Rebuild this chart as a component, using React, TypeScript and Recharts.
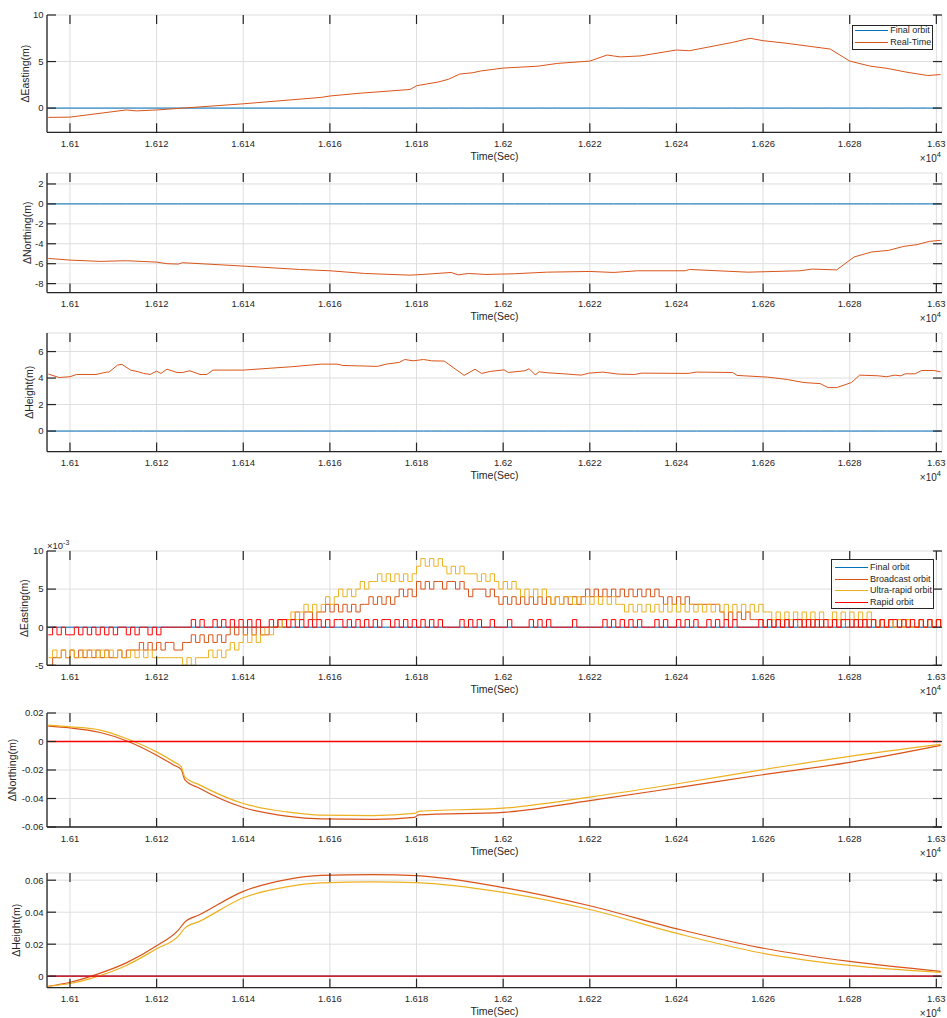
import React from 'react';
import { LineChart, Line, XAxis, YAxis, CartesianGrid, Legend } from 'recharts';

const W = 947;
const PLOT_LEFT = 47;
const PLOT_RIGHT = 942;
const MT = 14;
const XH = 40;
const AXIS = '#262626';
const GRID = '#dedede';
const FONT = '"Liberation Sans", Arial, sans-serif';

const BLUE = '#0072BD';
const ORANGE = '#D95319';
const YELLOW = '#EDB120';
const RED = '#FF0000';

// time axis, seconds (labels shown as x10^4)
const X_DOMAIN = [16094.7, 16301.3];
const X_TICKS = [16100, 16120, 16140, 16160, 16180, 16200, 16220, 16240, 16260, 16280, 16300];

// ---- upper block: real-time orbit minus final orbit (m) ----
const timeE = [16095, 16100, 16113, 16115.3, 16120, 16127, 16140, 16158, 16160, 16167, 16178.5, 16180, 16185, 16187.4, 16190, 16193, 16195, 16200, 16208, 16212.5, 16220, 16224, 16227, 16231.6, 16240, 16243, 16253, 16257, 16260, 16265.5, 16275.5, 16280, 16284.8, 16288.6, 16293, 16298, 16301];
const realTimeE = [-1.0, -0.97, -0.2, -0.3, -0.2, 0.03, 0.46, 1.15, 1.3, 1.6, 2.0, 2.4, 2.8, 3.1, 3.66, 3.8, 4.0, 4.3, 4.5, 4.8, 5.05, 5.7, 5.5, 5.6, 6.24, 6.16, 7.06, 7.5, 7.24, 6.96, 6.34, 5.05, 4.5, 4.27, 3.87, 3.5, 3.6];

const timeN = [16095, 16100, 16107, 16113, 16120, 16122.4, 16125, 16126, 16140, 16153, 16160, 16168, 16178.5, 16181.4, 16188, 16189.6, 16192, 16196, 16202.6, 16210, 16220, 16225.5, 16231, 16242, 16243, 16256.5, 16268.5, 16271.4, 16276, 16277, 16281, 16285, 16289, 16292.5, 16295.5, 16298.4, 16301];
const realTimeN = [-5.47, -5.64, -5.77, -5.7, -5.84, -6.0, -6.04, -5.9, -6.24, -6.58, -6.71, -6.98, -7.15, -7.08, -6.88, -7.12, -6.98, -7.08, -7.01, -6.85, -6.78, -6.88, -6.71, -6.71, -6.58, -6.85, -6.71, -6.54, -6.61, -6.62, -5.33, -4.83, -4.66, -4.26, -4.09, -3.76, -3.66];

const timeH = [16095, 16097.5, 16100, 16101.5, 16106, 16108.5, 16109, 16111, 16112, 16114, 16115.5, 16117, 16118.5, 16120, 16121, 16122.4, 16124.7, 16126, 16127.7, 16130, 16131.6, 16133, 16137, 16140, 16151, 16158, 16161.6, 16163, 16171, 16173, 16176, 16177.3, 16179.2, 16181.6, 16183.5, 16186.4, 16191, 16193.5, 16195, 16197, 16200.2, 16201.2, 16205, 16206, 16207.4, 16208.3, 16210.2, 16214, 16218, 16219.8, 16223, 16226.5, 16230.3, 16232, 16242.7, 16244.6, 16253, 16254, 16261, 16265.6, 16269.4, 16273.2, 16275, 16277, 16280.4, 16282.3, 16286.6, 16288.5, 16290.4, 16291.8, 16292.8, 16295.1, 16296.6, 16299.4, 16301];
const realTimeH = [4.3, 4.04, 4.1, 4.27, 4.27, 4.45, 4.45, 4.98, 5.03, 4.6, 4.5, 4.35, 4.27, 4.52, 4.35, 4.67, 4.42, 4.42, 4.55, 4.27, 4.27, 4.6, 4.6, 4.6, 4.85, 5.05, 5.05, 4.95, 4.88, 5.05, 5.18, 5.4, 5.3, 5.4, 5.3, 5.28, 4.2, 4.67, 4.35, 4.5, 4.62, 4.42, 4.55, 4.7, 4.24, 4.47, 4.4, 4.32, 4.22, 4.37, 4.45, 4.3, 4.27, 4.37, 4.35, 4.45, 4.42, 4.2, 4.07, 3.89, 3.66, 3.58, 3.28, 3.28, 3.66, 4.22, 4.17, 4.1, 4.22, 4.17, 4.32, 4.32, 4.57, 4.57, 4.47];

// ---- lower block, easting: 1 Hz from 16095 s, one hex char per epoch, value = digit - 5 (x1e-3 m) ----
const EAST_T0 = 16095;
const broadcastE1Hz =
  '0112121212 1212112122 2323232332 2334343434 3454545454 4556566767 7677878787 8788989898 9a9a9babab babbaba9aa ' +
  'a9a9898989 8989898989 8989a9a9a9 a9a9a9a9a9 a989898988 8888876767 6766656565 6565656565 5656565656 6565656565 5656565';
const ultraE1Hz =
  '1212121121 2121212112 1212111111 1010111212 1232343434 5455667678 7878989a9a 9ababbcbcb cbcbcdeded edcdcdcccb ' +
  'cbcbababa9 a9a9a98989 9898989898 9887878787 8787878787 8787878787 8787877676 7676767676 6767676767 6565656565 5656565';
const rapidE1Hz =
  '4545445454 5454545545 4554545555 5556565565 6565656565 5656656565 6565656656 5656565665 6565656565 6555565656 ' +
  '5565556555 5656565555 5655555565 6565656555 6565565656 5565656565 5555656565 6566565656 5656656565 6565665656 5656565';

// ---- lower block, northing / height (m) ----
const timeN2 = [16095, 16100, 16107, 16113, 16120, 16124, 16125.7, 16126.5, 16130, 16140, 16150, 16158, 16170, 16179.5, 16180.5, 16200, 16220, 16241, 16259, 16280, 16301];
const broadcastN2 = [0.0108, 0.0096, 0.0063, 0.0005, -0.0096, -0.0166, -0.0197, -0.0267, -0.033, -0.0463, -0.0524, -0.0543, -0.0546, -0.0532, -0.0515, -0.0497, -0.0415, -0.032, -0.0237, -0.0146, -0.0027];
const ultraN2 = [0.0115, 0.0103, 0.008, 0.0021, -0.0073, -0.0143, -0.0178, -0.0248, -0.0306, -0.0435, -0.0494, -0.0517, -0.052, -0.0505, -0.049, -0.0468, -0.039, -0.0293, -0.0202, -0.0104, -0.002];

const timeH2 = [16095, 16100, 16106, 16113, 16120, 16125, 16126.5, 16130, 16140, 16150, 16158, 16170, 16180, 16200, 16220, 16241, 16259, 16280, 16301];
const broadcastH2 = [-0.0063, -0.0038, 0.001, 0.0083, 0.019, 0.0288, 0.0338, 0.0385, 0.053, 0.0604, 0.063, 0.0635, 0.0628, 0.0554, 0.044, 0.029, 0.018, 0.0092, 0.003];
const ultraH2 = [-0.0063, -0.0046, -0.0004, 0.0067, 0.0171, 0.025, 0.03, 0.0344, 0.049, 0.0558, 0.0583, 0.059, 0.0585, 0.0524, 0.0417, 0.0261, 0.0148, 0.0067, 0.0023];

const decode = (s: string) => s.replace(/\s+/g, '').split('').map(c => parseInt(c, 16) - 5);

const rtRows = (time: number[], vals: number[]) => time.map((t, i) => ({ t, final: 0, realTime: vals[i] }));
const orbitRows = (time: number[], b: number[], u: number[]) =>
  time.map((t, i) => ({ t, final: 0, broadcast: b[i], ultra: u[i], rapid: 0 }));

const bE = decode(broadcastE1Hz);
const uE = decode(ultraE1Hz);
const rE = decode(rapidE1Hz);
const eastRows = bE.map((b, i) => ({ t: EAST_T0 + i, final: 0, broadcast: b, ultra: uE[i], rapid: rE[i] }));

const RT_SERIES = [
  { key: 'final', name: 'Final orbit', color: BLUE },
  { key: 'realTime', name: 'Real-Time', color: ORANGE },
];
const ORBIT_SERIES = [
  { key: 'final', name: 'Final orbit', color: BLUE },
  { key: 'broadcast', name: 'Broadcast orbit', color: ORANGE },
  { key: 'ultra', name: 'Ultra-rapid orbit', color: YELLOW },
  { key: 'rapid', name: 'Rapid orbit', color: RED },
];

const fmtX = (v: number) => String(+(v / 1e4).toFixed(4));

// legend keeps the plotting order (recharts would sort by name)
function LegendBox({ series, box }: any) {
  return (
    <div style={{ position: 'relative', width: box.w, height: box.h, boxSizing: 'border-box', border: `1px solid ${AXIS}`, background: '#fff', fontSize: 9, color: AXIS, fontFamily: FONT }}>
      {series.map((s: any, i: number) => (
        <div key={s.key} style={{ position: 'absolute', left: 0, top: box.first + i * box.step - 7, height: 12, lineHeight: '12px', whiteSpace: 'nowrap' }}>
          <span style={{ position: 'absolute', left: box.lineL - 1, top: 6, width: 33, borderTop: `1px solid ${s.color}` }} />
          <span style={{ position: 'absolute', left: box.textL - 1 }}>{s.name}</span>
        </div>
      ))}
    </div>
  );
}

function Panel({ plotTop, plotBottom, data, series, yDomain, yTicks, yLabel, labelX, curve, legend, exponent }: any) {
  const plotH = plotBottom - plotTop;
  const H = MT + plotH + XH;
  const pt = MT;
  const pb = MT + plotH;
  const mid = (pt + pb) / 2;
  const chartTop = plotTop - MT;

  const xTick = (p: any) => (
    <g>
      <line x1={p.x} x2={p.x} y1={pb} y2={pb - 9} stroke={AXIS} strokeWidth={1.2} />
      <line x1={p.x} x2={p.x} y1={pt} y2={pt + 9} stroke={AXIS} strokeWidth={1.2} />
      <text x={p.x} y={pb + 14.5} textAnchor="middle" fontSize={9.5} fill={AXIS}>{fmtX(p.payload.value)}</text>
    </g>
  );
  const yTick = (p: any) => (
    <g>
      <line x1={PLOT_LEFT} x2={PLOT_LEFT + 9} y1={p.y} y2={p.y} stroke={AXIS} strokeWidth={1.2} />
      <line x1={PLOT_RIGHT} x2={PLOT_RIGHT - 9} y1={p.y} y2={p.y} stroke={AXIS} strokeWidth={1.2} />
      <text x={PLOT_LEFT - 3.5} y={p.y + 3.4} textAnchor="end" fontSize={9.5} fill={AXIS}>{String(p.payload.value)}</text>
    </g>
  );
  const xLabel = () => (
    <g>
      <text x={(PLOT_LEFT + PLOT_RIGHT) / 2} y={pb + 27.5} textAnchor="middle" fontSize={10.5} fill={AXIS}>Time(Sec)</text>
      <text x={PLOT_RIGHT - 1} y={pb + 29.5} textAnchor="end" fontSize={10} fill={AXIS}>
        ×10<tspan dy={-5} fontSize={7.5}>4</tspan>
      </text>
    </g>
  );
  const yLab = () => (
    <g>
      <text x={labelX} y={mid} transform={`rotate(-90 ${labelX} ${mid})`} textAnchor="middle" fontSize={10.5} fill={AXIS}>{yLabel}</text>
      {exponent && (
        <text x={PLOT_LEFT} y={pt - 2} fontSize={9.5} fill={AXIS}>
          ×10<tspan dy={-4} fontSize={7}>{exponent}</tspan>
        </text>
      )}
    </g>
  );
  const frame = { stroke: AXIS, strokeWidth: 1.3 };

  return (
    <div style={{ position: 'absolute', left: 0, top: chartTop }}>
      <LineChart width={W} height={H} data={data} margin={{ top: MT, right: W - PLOT_RIGHT, bottom: 0, left: 0 }}>
        <CartesianGrid stroke={GRID} />
        <XAxis dataKey="t" type="number" domain={X_DOMAIN} allowDataOverflow ticks={X_TICKS} interval={0}
          height={XH} tickSize={0} tickMargin={0} tickLine={false} axisLine={frame} tick={xTick} label={xLabel} />
        <XAxis xAxisId="top" orientation="top" type="number" domain={X_DOMAIN} allowDataOverflow
          height={0} tick={false} tickLine={false} axisLine={frame} />
        <YAxis type="number" domain={yDomain} allowDataOverflow ticks={yTicks} interval={0}
          width={PLOT_LEFT} tickSize={0} tickMargin={0} tickLine={false} axisLine={frame} tick={yTick} label={yLab} />
        <YAxis yAxisId="right" orientation="right" type="number" domain={yDomain} allowDataOverflow
          width={0} tick={false} tickLine={false} axisLine={frame} />
        {series.map((s: any) => (
          <Line key={s.key} dataKey={s.key} name={s.name} stroke={s.color}
            strokeWidth={curve === 'monotone' ? (s.key === 'rapid' ? 1.4 : 1.2) : 1}
            type={curve} dot={false} activeDot={false} isAnimationActive={false} />
        ))}
        {legend && (
          <Legend layout="vertical" align="center" verticalAlign="middle"
            wrapperStyle={{ left: legend.left, top: legend.top - chartTop, width: legend.w, height: legend.h }}
            content={() => <LegendBox series={series} box={legend} />} />
        )}
      </LineChart>
    </div>
  );
}

export default function App() {
  return (
    <div style={{ position: 'absolute', left: 0, top: 0, width: W, height: 1018, overflow: 'hidden', background: '#fff', fontFamily: FONT }}>
      <Panel plotTop={15} plotBottom={132.3} data={rtRows(timeE, realTimeE)} series={RT_SERIES}
        yDomain={[-2.6, 10]} yTicks={[0, 5, 10]} yLabel="ΔEasting(m)" labelX={28.5} curve="linear"
        legend={{ left: 851.7, top: 25, w: 81.5, h: 24.5, first: 5, step: 11.7, lineL: 3.5, textL: 38.5 }} />
      <Panel plotTop={172.7} plotBottom={292.3} data={rtRows(timeN, realTimeN)} series={RT_SERIES}
        yDomain={[-8.9, 3.1]} yTicks={[-8, -6, -4, -2, 0, 2]} yLabel="ΔNorthing(m)" labelX={31} curve="linear" />
      <Panel plotTop={332.7} plotBottom={451.3} data={rtRows(timeH, realTimeH)} series={RT_SERIES}
        yDomain={[-1.55, 7.4]} yTicks={[0, 2, 4, 6]} yLabel="ΔHeight(m)" labelX={32.5} curve="linear" />
      <Panel plotTop={550.7} plotBottom={665} data={eastRows} series={ORBIT_SERIES}
        yDomain={[-5, 10]} yTicks={[-5, 0, 5, 10]} yLabel="ΔEasting(m)" labelX={28} curve="stepAfter" exponent="-3"
        legend={{ left: 831, top: 559.3, w: 102.5, h: 50, first: 7.4, step: 11.9, lineL: 4, textL: 39 }} />
      <Panel plotTop={712.7} plotBottom={826.7} data={orbitRows(timeN2, broadcastN2, ultraN2)} series={ORBIT_SERIES}
        yDomain={[-0.06, 0.02]} yTicks={[-0.06, -0.04, -0.02, 0, 0.02]} yLabel="ΔNorthing(m)" labelX={16} curve="monotone" />
      <Panel plotTop={873.3} plotBottom={988} data={orbitRows(timeH2, broadcastH2, ultraH2)} series={ORBIT_SERIES}
        yDomain={[-0.0072, 0.0645]} yTicks={[0, 0.02, 0.04, 0.06]} yLabel="ΔHeight(m)" labelX={20} curve="monotone" />
    </div>
  );
}
